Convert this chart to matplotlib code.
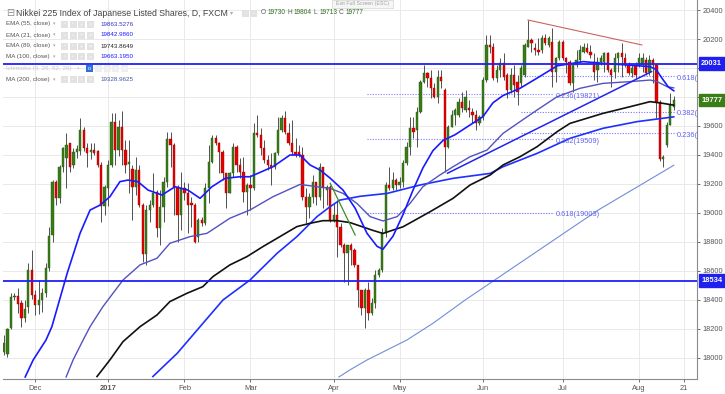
import matplotlib
matplotlib.use('Agg')
import matplotlib.pyplot as plt
from matplotlib.patches import Rectangle
from matplotlib.transforms import blended_transform_factory
import numpy as np

plt.rcParams['font.family'] = ['Liberation Sans', 'DejaVu Sans']

W, H = 725, 394

# ---------------- data (daily candles, FXCM JPN225) ----------------
opens = [18040, 18030, 18210, 18420, 18425, 18380, 18275, 18355, 18610, 18435,
         18365, 18400, 18445, 18620, 18845, 19215, 19100, 19320, 19380, 19480,
         19330, 19420, 19425, 19575, 19445, 19420, 19435, 19425, 19330, 19045,
         19170, 19330, 19630, 19435, 19595, 19435, 19340, 19300, 19180, 19296,
         19055, 18720, 19020, 19055, 19147, 18895, 19043, 19216, 19508, 19468,
         19181, 18986, 19170, 19140, 19066, 19055, 18836, 18951, 18928, 19170,
         19354, 19515, 19480, 19423, 19273, 19135, 19273, 19457, 19331, 19285,
         19147, 19193, 19170, 19554, 19538, 19446, 19365, 19331, 19319, 19411,
         19572, 19653, 19554, 19480, 19423, 19420, 19400, 19112, 19043, 19112,
         19216, 19112, 19319, 19160, 19181, 18951, 18986, 18905, 18779, 18721,
         18779, 18745, 18641, 18469, 18342, 18469, 18308, 18377, 18572, 18607,
         18860, 19193, 19170, 19227, 19193, 19215, 19342, 19457, 19584, 19572,
         19699, 19906, 19963, 19929, 19860, 19802, 19940, 19848, 19457, 19595,
         19676, 19676, 19768, 19710, 19722, 19699, 19676, 19618, 19664, 19917,
         20158, 20147, 19929, 19986, 20032, 19952, 19848, 19952, 19906, 19894,
         19952, 20147, 20193, 20135, 20124, 20124, 20204, 20158, 20182, 19975,
         20067, 20182, 20067, 20044, 19894, 20021, 20055, 20113, 20136, 20113,
         20044, 19986, 20044, 20044, 20101, 19986, 19975, 20067, 20101, 20067,
         20021, 19963, 20021, 20021, 20021, 20055, 19975, 20055, 20021, 19768,
         19370, 19469, 19607, 19730]
highs = [18158, 18210, 18450, 18450, 18480, 18400, 18400, 18652, 18745, 18470,
         18540, 18480, 18652, 18905, 19227, 19227, 19330, 19457, 19549, 19480,
         19445, 19470, 19653, 19590, 19480, 19480, 19480, 19435, 19355, 19190,
         19365, 19687, 19687, 19640, 19700, 19500, 19503, 19330, 19388, 19330,
         19066, 19055, 19090, 19273, 19158, 19158, 19250, 19560, 19560, 19480,
         19193, 19285, 19215, 19204, 19112, 19066, 18963, 18974, 19204, 19468,
         19538, 19538, 19492, 19434, 19273, 19285, 19480, 19468, 19377, 19388,
         19204, 19262, 19618, 19675, 19584, 19503, 19400, 19411, 19423, 19664,
         19675, 19705, 19618, 19641, 19515, 19469, 19457, 19170, 19135, 19262,
         19216, 19342, 19319, 19193, 19193, 19066, 19089, 18928, 18790, 18779,
         18790, 18756, 18641, 18469, 18480, 18526, 18411, 18607, 18618, 18894,
         19216, 19319, 19285, 19239, 19250, 19365, 19492, 19664, 19664, 19733,
         19917, 20020, 19975, 19986, 19894, 19986, 19986, 19860, 19607, 19710,
         19722, 19791, 19837, 19848, 19779, 19722, 19710, 19676, 19940, 20228,
         20228, 20170, 20021, 20067, 20101, 19963, 19998, 20021, 19952, 20021,
         20170, 20331, 20204, 20170, 20204, 20228, 20235, 20220, 20274, 20078,
         20193, 20193, 20078, 20055, 20032, 20124, 20158, 20170, 20170, 20158,
         20101, 20078, 20090, 20113, 20113, 19998, 20101, 20113, 20170, 20101,
         20044, 20021, 20044, 20101, 20101, 20078, 20090, 20067, 20032, 19779,
         19400, 19630, 19825, 19804]
lows = [18020, 18010, 18200, 18400, 18310, 18215, 18250, 18310, 18410, 18296,
        18300, 18320, 18420, 18600, 18800, 19055, 19066, 19285, 19170, 19285,
        19310, 19380, 19400, 19430, 19320, 19375, 19400, 19320, 18940, 18986,
        19045, 19320, 19330, 19390, 19330, 19273, 19135, 18950, 19124, 19043,
        18664, 18640, 18940, 19043, 18836, 18779, 18940, 19180, 19320, 18986,
        18802, 18882, 19090, 18860, 18905, 18790, 18802, 18910, 18917, 19066,
        19342, 19468, 19273, 19227, 19032, 19135, 19250, 19285, 19239, 19078,
        18986, 19020, 19158, 19526, 19400, 19342, 19296, 19193, 19300, 19400,
        19560, 19545, 19469, 19400, 19388, 19388, 19089, 18928, 18963, 19066,
        19055, 19089, 19032, 19055, 18940, 18940, 18698, 18767, 18526, 18503,
        18641, 18630, 18354, 18296, 18204, 18262, 18296, 18342, 18561, 18595,
        18837, 19158, 19158, 19158, 19170, 19181, 19331, 19400, 19515, 19457,
        19687, 19894, 19871, 19791, 19791, 19756, 19860, 19285, 19446, 19595,
        19607, 19664, 19699, 19699, 19664, 19618, 19572, 19607, 19641, 19906,
        20101, 19917, 19906, 19940, 19917, 19791, 19825, 19802, 19745, 19871,
        19940, 20147, 20113, 20090, 20090, 20101, 20158, 20147, 19871, 19906,
        20055, 20055, 19963, 19883, 19837, 20009, 20044, 20101, 20101, 20067,
        19917, 19906, 20021, 19975, 19975, 19871, 19929, 19975, 19940, 20009,
        19952, 19940, 19929, 20009, 19975, 19952, 19952, 19894, 19653, 19360,
        19315, 19457, 19607, 19713]
closes = [18100, 18200, 18420, 18430, 18375, 18275, 18340, 18610, 18435, 18365,
          18400, 18445, 18620, 18840, 19215, 19100, 19320, 19445, 19470, 19320,
          19420, 19440, 19575, 19450, 19415, 19435, 19415, 19330, 19045, 19180,
          19330, 19630, 19435, 19595, 19435, 19330, 19355, 19180, 19296, 19055,
          18720, 19020, 19055, 19135, 18895, 19043, 19216, 19508, 19468, 19181,
          18986, 19170, 19140, 19055, 19055, 18802, 18951, 18928, 19170, 19354,
          19515, 19480, 19423, 19273, 19135, 19273, 19457, 19331, 19285, 19147,
          19193, 19170, 19554, 19538, 19446, 19365, 19331, 19308, 19411, 19572,
          19653, 19560, 19480, 19423, 19400, 19400, 19112, 19043, 19112, 19216,
          19112, 19319, 19170, 19181, 18951, 18986, 18905, 18779, 18721, 18779,
          18745, 18641, 18469, 18342, 18469, 18308, 18377, 18572, 18607, 18860,
          19193, 19170, 19227, 19193, 19215, 19342, 19457, 19584, 19560, 19699,
          19906, 19963, 19929, 19860, 19802, 19940, 19910, 19457, 19595, 19676,
          19710, 19768, 19722, 19802, 19710, 19676, 19618, 19664, 19917, 20158,
          20147, 19929, 19986, 20032, 19940, 19848, 19952, 19883, 19837, 19998,
          20158, 20193, 20170, 20124, 20113, 20204, 20170, 20204, 19975, 20067,
          20182, 20067, 20044, 19894, 20021, 20055, 20124, 20147, 20113, 20090,
          19975, 20044, 20067, 20101, 19986, 19952, 20067, 20101, 20078, 20021,
          19963, 19998, 19952, 20067, 20067, 19963, 20055, 20021, 19768, 19375,
          19388, 19607, 19745, 19777]

# moving averages: (bar index, value)
ema21_x = [6.1, 8.4, 12.1, 13.8, 18.2, 21.9, 24.8, 27.7, 30.5, 33.4, 35.7, 38.6, 41.5, 45.5,
           49.3, 53.0, 56.5, 59.9, 63.7, 68.0, 70.9, 77.5, 82.4, 85.3, 88.2, 91.1, 94.0,
           97.7, 101.2, 104.6, 107.5, 109.2, 112.1, 115.0, 117.9, 120.7, 123.6, 126.5,
           130.0, 134.3, 138.0, 140.9, 143.8, 148.7, 153.6, 159.4, 166.9, 172.6, 179.5,
           186.2, 187.9, 189.6, 191.4, 193.0]
ema21_v = [17869, 17986, 18124, 18216, 18584, 18859, 19020, 19055, 19112, 19216, 19227, 19216,
           19158, 19124, 19181, 19158, 19101, 19181, 19239, 19250, 19250, 19319, 19400, 19400,
           19331, 19296, 19240, 19158, 19032, 18860, 18770, 18750, 18840, 18990, 19160, 19310,
           19430, 19500, 19540, 19607, 19664, 19760, 19810, 19860, 19930, 20015, 20044, 20032,
           20021, 20009, 19990, 19930, 19870, 19843]
ema55_x = [17.9, 19.9, 22.8, 24.8, 28.5, 31.4, 34.3, 39.2, 44.1, 47.8, 53.6, 58.5, 65.1, 70.9,
           77.5, 85.3, 90.2, 94.0, 97.7, 101.7, 105.5, 109.2, 113.3, 117.0, 120.7, 125.6,
           129.4, 134.3, 139.2, 143.8, 148.7, 153.6, 159.4, 166.0, 172.6, 180.4, 186.2,
           188.2, 191.1, 193.0]
ema55_v = [17869, 17986, 18124, 18216, 18354, 18446, 18538, 18642, 18688, 18791, 18837, 18860,
           18964, 19021, 19112, 19197, 19181, 19170, 19135, 19066, 18975, 18945, 18975, 19066,
           19181, 19262, 19319, 19388, 19434, 19549, 19630, 19710, 19802, 19860, 19894, 19906,
           19917, 19906, 19871, 19863]
ema89_x = [26.8, 30.5, 34.3, 39.2, 44.1, 47.8, 52.7, 57.3, 60.2, 65.1, 70.0, 74.6, 79.5, 84.4,
           88.2, 91.9, 96.0, 99.7, 106.3, 109.2, 115.0, 122.8, 129.4, 134.3, 140.1, 143.8,
           148.7, 153.6, 159.4, 163.1, 172.6, 180.4, 186.2, 189.9, 193.0]
ema89_v = [17872, 17986, 18113, 18216, 18297, 18389, 18446, 18492, 18561, 18642, 18699, 18768,
           18837, 18906, 18929, 18947, 18947, 18934, 18880, 18859, 18905, 19009, 19101, 19193,
           19262, 19331, 19388, 19457, 19561, 19618, 19687, 19733, 19768, 19756, 19744]
ma100_x = [42.9, 49.9, 56.5, 63.1, 70.9, 78.7, 84.4, 90.2, 94.0, 96.8, 102.6, 110.4, 119.9,
           129.4, 140.1, 143.8, 153.6, 163.1, 172.6, 182.4, 193.0]
ma100_v = [17872, 18032, 18216, 18400, 18538, 18722, 18837, 18975, 19044, 19089, 19115, 19135,
           19193, 19239, 19273, 19319, 19411, 19515, 19584, 19630, 19663]
ma200_x = [96.5, 99.7, 104.6, 116.1, 123.6, 132.9, 171.2, 193.0]
ma200_v = [17869, 17918, 17986, 18124, 18239, 18400, 19020, 19329]

# horizontal levels and drawings
h_levels = [20031, 18534]
last_price = 19777
fib_left_levels = [19821, 19509, 19003]
fib_left_labels = ['0.236(19821)', '0.382(19509)', '0.618(19003)']
fib_left_span = (104.6, 158.2)
fib_right_levels = [19945, 19699, 19550]
fib_right_labels = ['0.618(19945)', '0.382(19699)', '0.236(19550)']
fib_right_span = (149.0, 193.6)
red_trend = ([151.0, 183.8], [20331, 20159])
green_trend = ([94.0, 101.2], [19205, 18848])
blue_trend = ([127.8, 186.6], [19274, 19975])

tick_pos = [9, 30, 52, 71, 95, 114, 138, 161, 183, 196]
tick_labels = ['Dec', '2017', 'Feb', 'Mar', 'Apr', 'May', 'Jun', 'Jul', 'Aug', '21']
y_ticks = list(range(18000, 20401, 200))
y_hidden = [20000, 19800]   # covered by the price boxes in the original

legend_rows = [
    ('EMA (55, close)', '19863.5276', '#3535c8'),
    ('EMA (21, close)', '19842.9860', '#1a1aff'),
    ('EMA (89, close)', '19743.8649', '#222222'),
    ('MA (100, close)', '19663.1950', '#1a1aff'),
    ('Ichimoku (9, 26, 52, 26)', '', '#cccccc'),
    ('MA (200, close)', '19328.9625', '#3d55a8'),
]

# ---------------- figure ----------------
fig = plt.figure(figsize=(W / 100, H / 100), dpi=100)
fig.patch.set_facecolor('white')
ax = fig.add_axes([3 / W, 1 - 379 / H, 694 / W, 379 / H])
ax.set_xlim(-0.29, 199.7)
ax.set_ylim(17855, 20469)

for s in ['top', 'left']:
    ax.spines[s].set_visible(False)
for s in ['right', 'bottom']:
    ax.spines[s].set_color('#8a8a8a')
    ax.spines[s].set_linewidth(0.8)

ax.yaxis.tick_right()
ax.set_yticks(y_ticks)
ax.set_yticklabels(['' if v in y_hidden else str(v) for v in y_ticks])
ax.tick_params(axis='y', labelsize=5.3, colors='#555555', length=2.5, width=0.6, pad=1.5)
ax.set_xticks(tick_pos)
ax.set_xticklabels(tick_labels)
ax.tick_params(axis='x', labelsize=5.4, colors='#555555', length=2.5, width=0.6, pad=1.5)
ax.get_xticklabels()[1].set_fontweight('bold')
ax.grid(True, color='#e9e9e9', lw=0.7, zorder=0)
ax.set_axisbelow(True)

o = np.array(opens, float); h = np.array(highs, float)
l = np.array(lows, float); c = np.array(closes, float)
xi = np.arange(len(c))
up = c >= o
GREEN, RED = '#3a7d17', '#e60000'
ax.vlines(xi, l, h, color='#505050', lw=0.7, zorder=3)
ax.bar(xi, np.maximum(np.abs(c - o), 7), bottom=np.minimum(o, c), width=0.66,
       color=np.where(up, GREEN, RED), edgecolor=np.where(up, '#25560d', '#a00000'),
       linewidth=0.3, zorder=3.5)

# fib retracements
for lv, lab in zip(fib_left_levels, fib_left_labels):
    ax.hlines(lv, *fib_left_span, colors='#7878ff', lw=0.8, linestyles=(0, (1, 1.4)), zorder=2)
    ax.text(fib_left_span[1] + 0.8, lv + 8, lab, fontsize=5.3, color='#6161ee', va='top',
            ha='left', zorder=6)
for lv, lab in zip(fib_right_levels, fib_right_labels):
    ax.hlines(lv, *fib_right_span, colors='#7878ff', lw=0.8, linestyles=(0, (1, 1.4)), zorder=2)
    ax.text(fib_right_span[1] + 0.2, lv + 8, lab, fontsize=5.3, color='#6161ee', va='top',
            ha='left', zorder=6, clip_on=True)

# moving averages
ax.plot(ma200_x, ma200_v, color='#6f8fd6', lw=0.8, zorder=4)
ax.plot(ma100_x, ma100_v, color='#1f2fff', lw=1.2, zorder=4)
ax.plot(ema89_x, ema89_v, color='#111111', lw=1.2, zorder=4)
ax.plot(ema55_x, ema55_v, color='#5252bf', lw=1.0, zorder=4)
ax.plot(ema21_x, ema21_v, color='#1a1aff', lw=1.2, zorder=4)

# drawings
ax.plot(*red_trend, color='#c86464', lw=0.8, zorder=4)
ax.plot(*green_trend, color='#3c8c28', lw=0.9, zorder=4)
ax.plot(*blue_trend, color='#2323f0', lw=1.1, zorder=4)
for lv in h_levels:
    ax.axhline(lv, color='#2020f5', lw=1.3, zorder=4)

# right-axis price boxes
bt = blended_transform_factory(ax.transAxes, ax.transData)
for val, fc in [(h_levels[0], '#1f1ff0'), (h_levels[1], '#1f1ff0'), (last_price, '#3a7d17')]:
    ax.text(1.006, val, str(val), transform=bt, fontsize=5.4, fontweight='bold', color='white',
            ha='left', va='center', clip_on=False, zorder=10,
            bbox=dict(boxstyle='square,pad=0.35', fc=fc, ec=fc))

# ---------------- header / legend ----------------
def F(x, y):
    return x / W, 1 - y / H

def icon(x, y, fc='#e2e2e2', glyph='', gc='white'):
    fig.patches.append(Rectangle(F(x, y + 3.5), 7 / W, 7 / H, transform=fig.transFigure,
                                 fc=fc, ec='none', zorder=5))
    if glyph:
        fig.text(*F(x + 3.5, y), glyph, fontsize=4, color=gc, ha='center', va='center',
                 zorder=6)

fig.text(*F(6, 13), '⊟', fontsize=7, color='#8a8a8a', va='center', ha='left')
fig.text(*F(16, 13), 'Nikkei 225 Index of Japanese Listed Shares, D, FXCM', fontsize=6.3,
         color='#444444', va='center', ha='left')
fig.text(*F(230, 13), '▾', fontsize=4.5, color='#aaaaaa', va='center', ha='left')
icon(242, 13, glyph='◦')
icon(250, 13, glyph='◦')
x = 261
for letter, num in [('O', '19730'), ('H', '19804'), ('L', '19713'), ('C', '19777')]:
    fig.text(*F(x, 13), letter, fontsize=4.7, color='#555555', va='center', ha='left')
    fig.text(*F(x + 6.5, 13), num, fontsize=4.7, color='#2e6b1f', va='center', ha='left')
    x += 26

row_y = [24, 35, 46, 56.7, 68.3, 79.3]
for (lab, val, vc), y in zip(legend_rows, row_y):
    faint = val == ''
    fig.text(*F(6, y), lab, fontsize=4.5, color='#c8c8c8' if faint else '#555555',
             va='center', ha='left')
    if faint:
        fig.text(*F(77, y), '▾', fontsize=3.5, color='#cccccc', va='center', ha='left')
        icon(86, y, fc='#2f6fdc', glyph='o')
        for k, g in enumerate(['◦', '◦', '+', '×']):
            icon(95 + 8.5 * k, y, fc='#efefef', glyph=g)
    else:
        fig.text(*F(53, y), '▾', fontsize=3.5, color='#aaaaaa', va='center', ha='left')
        for k, g in enumerate(['◦', '◦', '+', '×']):
            icon(61 + 8.5 * k, y, glyph=g)
        fig.text(*F(100, y), val, fontsize=4.5, color=vc, va='center', ha='left')

# exit full screen badge
fig.patches.append(Rectangle(F(332, 8), 61 / W, 8 / H, transform=fig.transFigure,
                             fc='#f6f6f6', ec='#d4d4d4', lw=0.5, zorder=5))
fig.text(*F(362.5, 4), 'Exit Full Screen (ESC)', fontsize=3.8, color='#a0a0a0',
         ha='center', va='center', zorder=6)

fig.savefig('out.png', dpi=100)
